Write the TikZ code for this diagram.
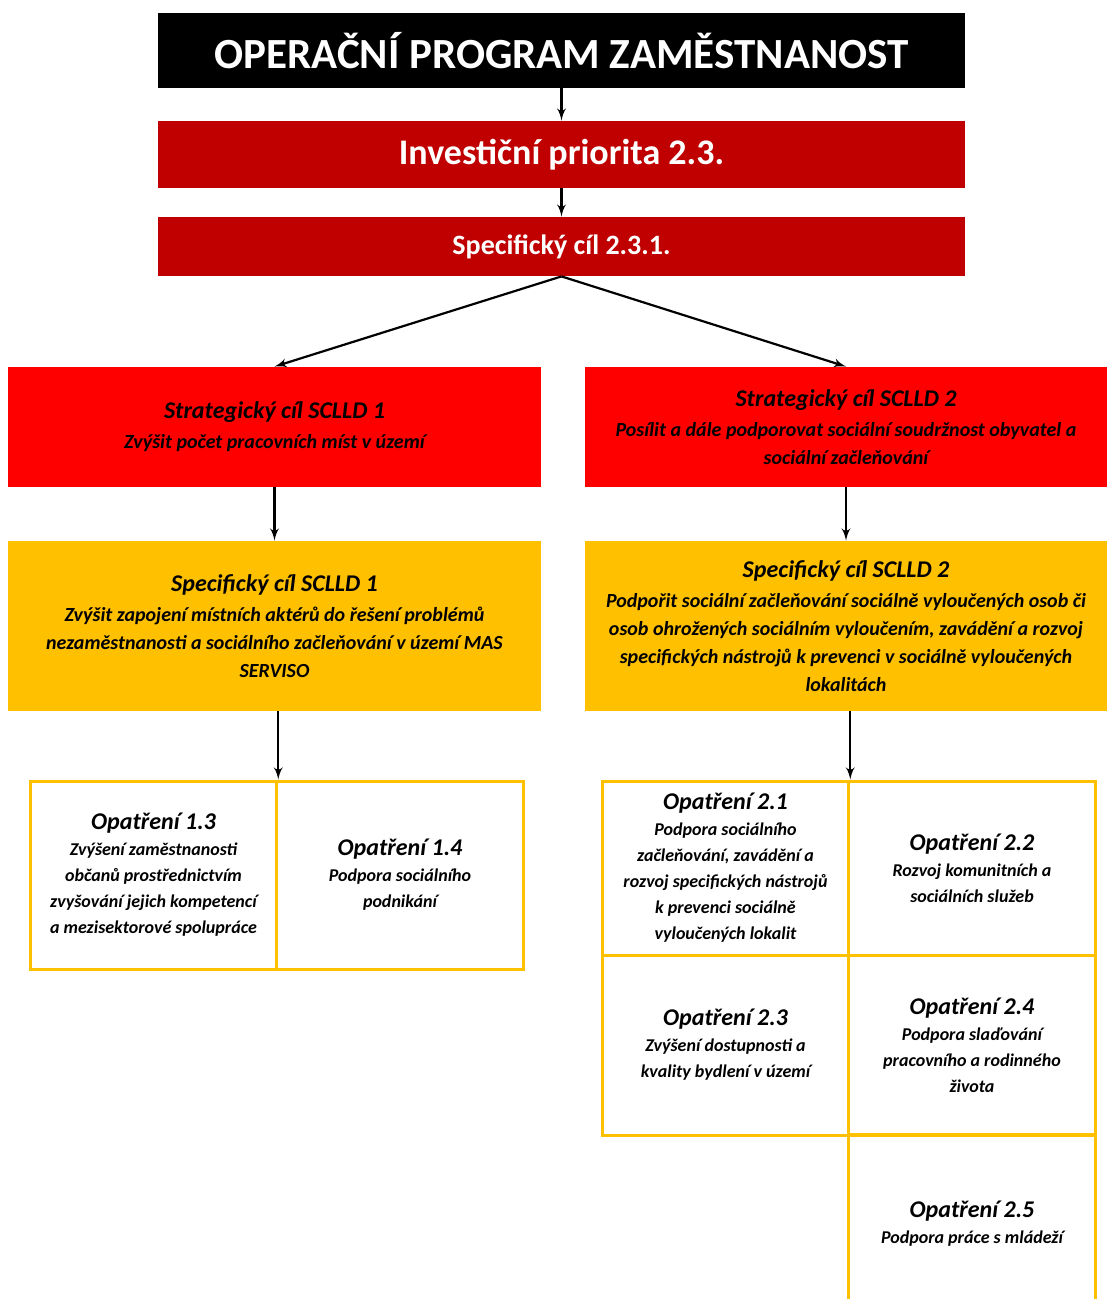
\documentclass[tikz,border=0pt]{standalone}
\usepackage{fontspec}
\setmainfont{Carlito}
\usepackage{tikz}
\usetikzlibrary{arrows}
\definecolor{darkred}{HTML}{C00000}
\definecolor{gold}{HTML}{FFC000}
\tikzstyle{block} = [rectangle, text=white, text centered, minimum width=403.5pt]
\tikzstyle{goal} = [rectangle, align=center, minimum width=266.5pt,
    font=\bfseries\itshape\fontsize{10}{14}\selectfont]
\tikzstyle{cell} = [rectangle, draw=gold, line width=1.5pt, align=center,
    minimum width=123.25pt, font=\bfseries\itshape\fontsize{9}{13}\selectfont]
\tikzstyle{line} = [draw, line width=1.1pt, -latex']
\newcommand{\heading}[1]{{\fontsize{12}{14}\selectfont #1}}

\begin{document}
\begin{tikzpicture}[node distance = 50pt]
  \useasboundingbox (0,0) rectangle (553.5pt,-649.5pt);
  % nodes
  \node [block, fill=black, minimum height=37.5pt, font=\bfseries\fontsize{21.5}{24}\selectfont](op) at (280.75pt,-25.25pt){OPERAČNÍ PROGRAM ZAMĚSTNANOST};
  \node [block, fill=darkred, minimum height=33.5pt, font=\bfseries\fontsize{18}{20}\selectfont, below of = op, node distance = 52pt](ip){Investiční priorita 2.3.};
  \node [block, fill=darkred, minimum height=29.5pt, font=\bfseries\fontsize{14}{16}\selectfont, below of = ip, node distance = 46pt](sc){Specifický cíl 2.3.1.};
  \node [goal, fill=red, minimum height=60pt](strat1) at (137.25pt,-213.5pt){\heading{Strategický cíl SCLLD 1}\\[1pt] Zvýšit počet pracovních míst v území};
  \node [goal, fill=red, minimum height=60pt, minimum width=261pt, right of = strat1, node distance = 285.75pt](strat2){\heading{Strategický cíl SCLLD 2}\\[1pt] Posílit a dále podporovat sociální soudržnost obyvatel a\\ sociální začleňování};
  \node [goal, fill=gold, minimum height=85pt, below of = strat1, node distance = 99.5pt](spec1){\heading{Specifický cíl SCLLD 1}\\[1pt] Zvýšit zapojení místních aktérů do řešení problémů\\ nezaměstnanosti a sociálního začleňování v území MAS\\ SERVISO};
  \node [goal, fill=gold, minimum height=85pt, minimum width=261pt, below of = strat2, node distance = 99.5pt](spec2){\heading{Specifický cíl SCLLD 2}\\[1pt] Podpořit sociální začleňování sociálně vyloučených osob či\\ osob ohrožených sociálním vyloučením, zavádění a rozvoj\\ specifických nástrojů k prevenci v sociálně vyloučených\\ lokalitách};
  \node [cell, minimum height=94pt](op13) at (76.75pt,-437.5pt){\heading{Opatření 1.3}\\ Zvýšení zaměstnanosti\\ občanů prostřednictvím\\ zvyšování jejich kompetencí\\ a mezisektorové spolupráce};
  \node [cell, minimum height=94pt, right of = op13, node distance = 123.25pt](op14){\heading{Opatření 1.4}\\ Podpora sociálního\\ podnikání};
  \node [cell, minimum height=87pt](op21) at (362.75pt,-434pt){\heading{Opatření 2.1}\\ Podpora sociálního\\ začleňování, zavádění a\\ rozvoj specifických nástrojů\\ k prevenci sociálně\\ vyloučených lokalit};
  \node [cell, minimum height=87pt, right of = op21, node distance = 123.25pt](op22){\heading{Opatření 2.2}\\ Rozvoj komunitních a\\ sociálních služeb};
  \node [cell, minimum height=90pt, below of = op21, node distance = 88.5pt](op23){\heading{Opatření 2.3}\\ Zvýšení dostupnosti a\\ kvality bydlení v území};
  \node [cell, minimum height=90pt, right of = op23, node distance = 123.25pt](op24){\heading{Opatření 2.4}\\ Podpora slaďování\\ pracovního a rodinného\\ života};
  \node [cell, minimum height=90pt, below of = op24, node distance = 89.5pt](op25){\heading{Opatření 2.5}\\ Podpora práce s mládeží};
  % edges
  \path [line] (op) -- (ip);
  \path [line] (ip) -- (sc);
  \path [line] (sc.south) -- (strat1.north);
  \path [line] (sc.south) -- (strat2.north);
  \path [line] (strat1) -- (spec1);
  \path [line] (strat2) -- (spec2);
  \path [line] (spec1.south -| op13.north east) -- (op13.north east);
  \path [line] (spec2.south -| op21.north east) -- (op21.north east);
\end{tikzpicture}
\end{document}
